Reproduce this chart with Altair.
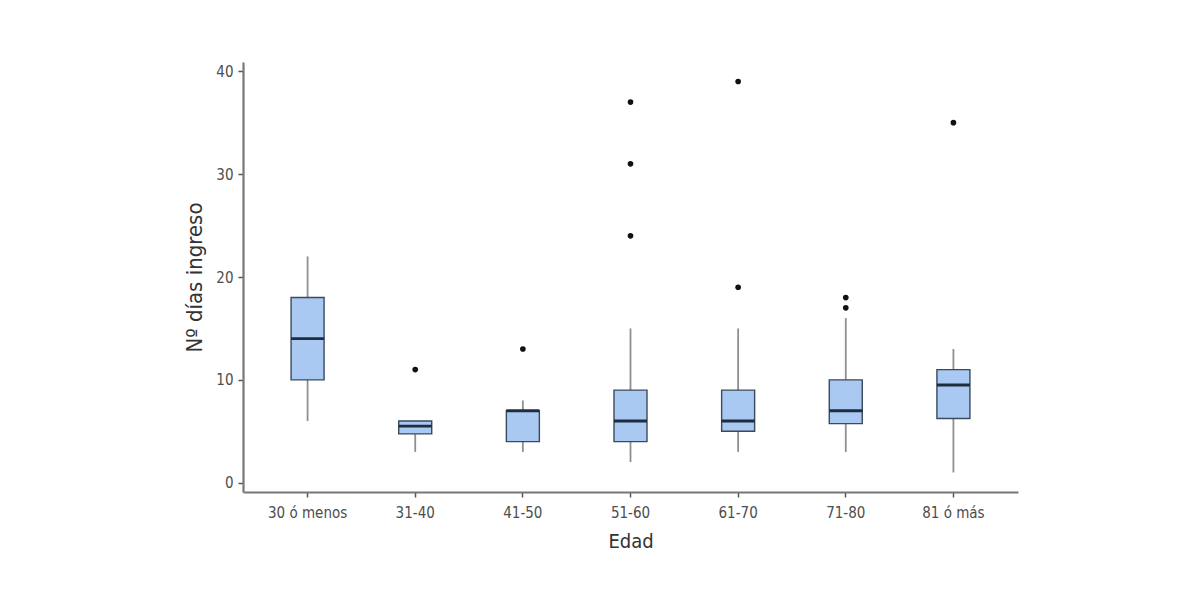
import altair as alt
import pandas as pd

categories = ["30 ó menos", "31-40", "41-50", "51-60", "61-70", "71-80", "81 ó más"]
whisker_low = [6, 3, 3, 2, 3, 3, 1]
q1 = [10, 4.75, 4, 4, 5, 5.75, 6.25]
median = [14, 5.5, 7, 6, 6, 7, 9.5]
q3 = [18, 6, 7, 9, 9, 10, 11]
whisker_high = [22, 6, 8, 15, 15, 16, 13]

outlier_cats = ["31-40", "41-50", "51-60", "51-60", "51-60", "61-70", "61-70", "71-80", "71-80", "81 ó más"]
outlier_vals = [11, 13, 24, 31, 37, 19, 39, 17, 18, 35]

box_df = pd.DataFrame({
    "Edad": categories,
    "lo": whisker_low,
    "q1": q1,
    "med": median,
    "q3": q3,
    "hi": whisker_high,
})
out_df = pd.DataFrame({"Edad": outlier_cats, "val": outlier_vals})

FONT = "'DejaVu Sans Condensed', 'Liberation Sans', sans-serif"

x_enc = alt.X(
    "Edad:N",
    sort=categories,
    scale=alt.Scale(paddingInner=0, paddingOuter=0.1),
    axis=alt.Axis(title="Edad", labelAngle=0),
)
y_scale = alt.Scale(domain=[-0.9, 40.9], nice=False, zero=False)
y_axis = alt.Axis(title="Nº días ingreso", values=[0, 10, 20, 30, 40], grid=False, titleFontSize=22)

base = alt.Chart(box_df)

whisk = base.mark_rule(color="#8f8f8f", strokeWidth=1.8).encode(
    x=x_enc,
    y=alt.Y("lo:Q", scale=y_scale, axis=y_axis),
    y2="hi:Q",
)
box = base.mark_bar(size=33, color="#a9c9f2", stroke="#3a4a5a", strokeWidth=1.4).encode(
    x=x_enc,
    y=alt.Y("q1:Q", scale=y_scale),
    y2="q3:Q",
)
med = base.mark_tick(size=33, thickness=2.8, color="#1f2d40", opacity=1).encode(
    x=x_enc,
    y=alt.Y("med:Q", scale=y_scale),
)
pts = alt.Chart(out_df).mark_circle(size=32, color="#111111", opacity=1).encode(
    x=x_enc,
    y=alt.Y("val:Q", scale=y_scale),
)

chart = (
    alt.layer(whisk, box, med, pts)
    .properties(
        width=775,
        height=430,
        autosize="none",
        padding={"left": 243, "top": 62, "right": 182, "bottom": 108},
    )
    .configure_view(stroke=None)
    .configure_axis(
        labelFont=FONT,
        titleFont=FONT,
        labelFontSize=15,
        titleFontSize=20,
        titleFontWeight="normal",
        labelColor="#4d4d4d",
        titleColor="#333333",
        domainColor="#777777",
        domainWidth=2.2,
        tickColor="#555555",
        tickWidth=1.5,
        tickSize=5,
        grid=False,
    )
    .configure_axisX(labelPadding=8, titlePadding=11)
    .configure_axisY(labelPadding=5, titlePadding=9)
)

chart.save("out.html", embed_options={"renderer": "svg", "actions": False})
